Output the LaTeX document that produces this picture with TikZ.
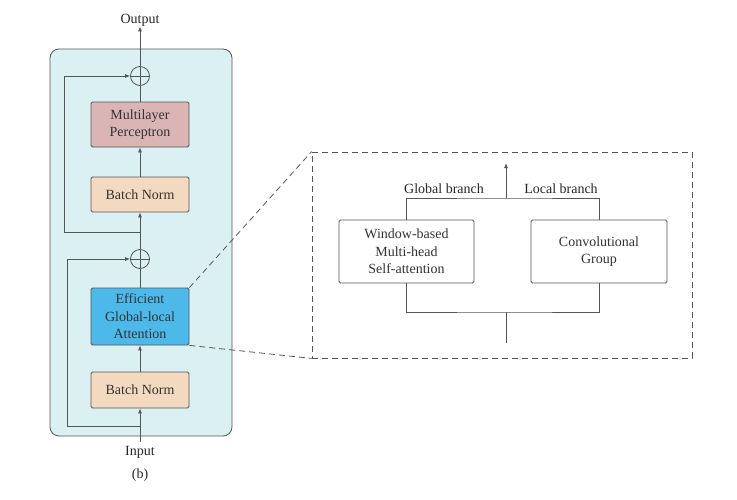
\documentclass[tikz,border=0pt]{standalone}
\usepackage{fontspec}
\setmainfont{Liberation Serif}
\newfontfamily\figfont{Liberation Serif}
\usepackage{xcolor}
\usetikzlibrary{shapes.geometric, arrows.meta, positioning, calc}

\definecolor{blockbg}{HTML}{DAF0F2}
\definecolor{mlpred}{HTML}{DBB5B5}
\definecolor{normtan}{HTML}{F3D9BF}
\definecolor{attblue}{HTML}{4DB8EA}
\definecolor{edgegray}{HTML}{555555}

\tikzset{
  blk/.style={draw=edgegray, rounded corners=1.5pt, align=center, text=black!80,
    font=\figfont\fontsize{14}{17.5}\selectfont, inner sep=0pt, line width=0.8pt},
  txt/.style={font=\figfont\fontsize{14}{17}\selectfont, text=black!85, inner sep=0pt},
  sumnode/.style={draw=edgegray, circle, minimum size=19pt, inner sep=0pt, line width=0.8pt},
  flow/.style={draw=edgegray, line width=0.8pt},
  arr/.style={flow, -{Latex[length=5pt, width=4pt]}},
  zoomline/.style={draw=edgegray, line width=0.8pt, dash pattern=on 6pt off 4pt},
}

\begin{document}
\begin{tikzpicture}[x=1pt, y=-1pt]
    \useasboundingbox (0,0) rectangle (737,499);

    % Transformer block background
    \draw[edgegray, fill=blockbg, rounded corners=9pt, line width=0.8pt] (50,49) rectangle (232,436);

    % Blocks of the encoder
    \node[blk, fill=mlpred, minimum width=98pt, minimum height=45pt] (mlp) at (140,124.5) {Multilayer\\Perceptron};
    \node[blk, fill=normtan, minimum width=98pt, minimum height=35pt] (bn2) at (140,194.5) {Batch Norm};
    \node[blk, fill=attblue, minimum width=98pt, minimum height=57pt] (ega) at (140,316.5) {Efficient\\Global-local\\Attention};
    \node[blk, fill=normtan, minimum width=98pt, minimum height=36pt] (bn1) at (140,390) {Batch Norm};

    % Residual sums
    \node[sumnode] (sum2) at (140,76) {};
    \node[sumnode] (sum1) at (140,259) {};
    \draw[flow] (sum2.north) -- (sum2.south) (sum2.west) -- (sum2.east);
    \draw[flow] (sum1.north) -- (sum1.south) (sum1.west) -- (sum1.east);

    % Labels
    \node[txt] (out) at (140,20) {Output};
    \node[txt] (inp) at (140,452) {Input};
    \node[txt] (cap) at (140,475) {(b)};

    % Main path
    \coordinate (inbot) at (140,442);
    \coordinate (split1) at (140,426);
    \coordinate (split2) at (140,232);
    \draw[arr] (inbot) -- (bn1.south);
    \draw[arr] (bn1.north) -- (ega.south);
    \draw[flow] (ega.north) -- (sum1.south);
    \draw[arr] (sum1.north) -- (bn2.south);
    \draw[arr] (bn2.north) -- (mlp.south);
    \draw[flow] (mlp.north) -- (sum2.south);
    \draw[arr] (sum2.north) -- (out.south);

    % Skip connections
    \draw[arr] (split1) -- (67,426) -- (67,259) -- (sum1.west);
    \draw[arr] (split2) -- (64,232) -- (64,76) -- (sum2.west);

    % Zoomed view of the attention
    \node[zoomline, minimum width=380pt, minimum height=206pt, inner sep=0pt] (zoom) at (502,255) {};
    \draw[zoomline] (ega.north east) -- (zoom.north west);
    \draw[zoomline] (ega.south east) -- (zoom.south west);

    \node[blk, fill=white, minimum width=135pt, minimum height=63pt] (wmsa) at (406.5,251.5) {Window-based\\Multi-head\\Self-attention};
    \node[blk, fill=white, minimum width=136pt, minimum height=63pt] (conv) at (599,251.5) {Convolutional\\Group};

    \coordinate (zin) at (506,343);
    \coordinate (zbot) at (506,312);
    \coordinate (ztop) at (506,198);
    \coordinate (zout) at (506,163);
    \draw[flow] (zin) -- (zbot);
    \draw[flow] (wmsa.south) |- (zbot) -| (conv.south);
    \draw[flow] (wmsa.north) |- (ztop) -| (conv.north);
    \draw[arr] (ztop) -- (zout);

    \node[txt] (glb) at (444,189) {Global branch};
    \node[txt] (lcb) at (561,189) {Local branch};
\end{tikzpicture}
\end{document}
